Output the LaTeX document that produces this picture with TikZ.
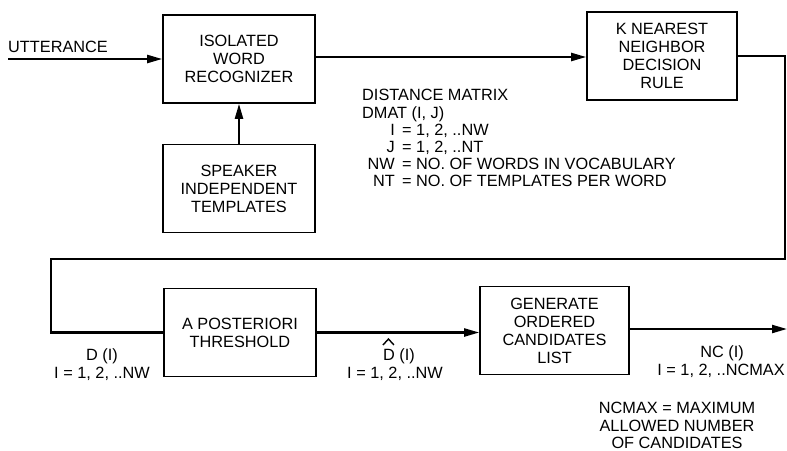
\documentclass[tikz,border=0pt]{standalone}
\usepackage{fontspec}
\setmainfont{Liberation Sans}
\usetikzlibrary{arrows.meta}
\begin{document}
\begin{tikzpicture}[x=1pt,y=-1pt,
  font=\fontsize{16.3}{18}\selectfont,
  blk/.style={draw,line width=1.6pt,align=center,minimum width=152pt,minimum height=88pt,inner sep=0pt},
  con/.style={line width=2.2pt},
  arr/.style={con,-{Triangle[length=15pt,width=8pt]}},
  lbl/.style={align=center,inner sep=0pt}]
\useasboundingbox (0,0) rectangle (787,450);
\node[blk] (rec) at (239,59) {ISOLATED\\WORD\\RECOGNIZER};
\node[blk] (spk) at (239,188.5) {SPEAKER\\INDEPENDENT\\TEMPLATES};
\node[blk,minimum width=150pt] (knn) at (662,56) {K NEAREST\\NEIGHBOR\\DECISION\\RULE};
\node[blk] (apo) at (240,332.5) {A POSTERIORI\\THRESHOLD};
\node[blk,minimum width=149pt] (gen) at (554.5,330.5) {GENERATE\\ORDERED\\CANDIDATES\\LIST};
\coordinate (in) at (8,59);
\coordinate (c1) at (785,56);
\coordinate (c2) at (785,259);
\coordinate (c3) at (51,259);
\coordinate (out) at (787,329);
\node[lbl,anchor=base west] (utt) at (8,52) {UTTERANCE};
\draw[arr] (in) -- (rec.west);
\draw[arr] (spk.north) -- (rec.south);
\draw[arr] (rec.east |- 0,57) -- (knn.west |- 0,57);
\draw[con] (knn.east) -- (c1) -- (c2) -- (c3) |- (apo.west);
\draw[arr] (apo.east) -- (apo.east -| gen.west);
\draw[arr] (gen.east |- out) -- (out);
\node[lbl,anchor=base west] (dm1) at (362,100) {DISTANCE MATRIX};
\node[lbl,anchor=base west] (dm2) at (362,118) {DMAT (I, J)};
\node[lbl,anchor=base east] (li) at (395,135) {I};
\node[lbl,anchor=base] (ei) at (407,135) {=};
\node[lbl,anchor=base west] (vi) at (416,135) {1, 2, ..NW};
\node[lbl,anchor=base east] (lj) at (395,152) {J};
\node[lbl,anchor=base] (ej) at (407,152) {=};
\node[lbl,anchor=base west] (vj) at (416,152) {1, 2, ..NT};
\node[lbl,anchor=base east] (lnw) at (395,169) {NW};
\node[lbl,anchor=base] (enw) at (407,169) {=};
\node[lbl,anchor=base west] (vnw) at (416,169) {NO. OF WORDS IN VOCABULARY};
\node[lbl,anchor=base east] (lnt) at (395,186) {NT};
\node[lbl,anchor=base] (ent) at (407,186) {=};
\node[lbl,anchor=base west] (vnt) at (416,186) {NO. OF TEMPLATES PER WORD};
\node[lbl,anchor=base] (d1a) at (102,360) {D (I)};
\node[lbl,anchor=base] (d1b) at (102,378) {I = 1, 2, ..NW};
\node[lbl,anchor=base] (d2a) at (399,360) {D (I)};
\draw[line width=1.4pt] ([shift={(0,-15)}]d2a.base west) -- ([shift={(5.5,-21)}]d2a.base west) -- ([shift={(11,-15)}]d2a.base west);
\node[lbl,anchor=base] (d2b) at (395,378) {I = 1, 2, ..NW};
\node[lbl,anchor=base] (nca) at (722,357) {NC (I)};
\node[lbl,anchor=base] (ncb) at (721,375) {I = 1, 2, ..NCMAX};
\node[lbl,anchor=base] (ncm1) at (677,413) {NCMAX = MAXIMUM};
\node[lbl,anchor=base] (ncm2) at (677,431) {ALLOWED NUMBER};
\node[lbl,anchor=base] (ncm3) at (677,448) {OF CANDIDATES};
\end{tikzpicture}
\end{document}
